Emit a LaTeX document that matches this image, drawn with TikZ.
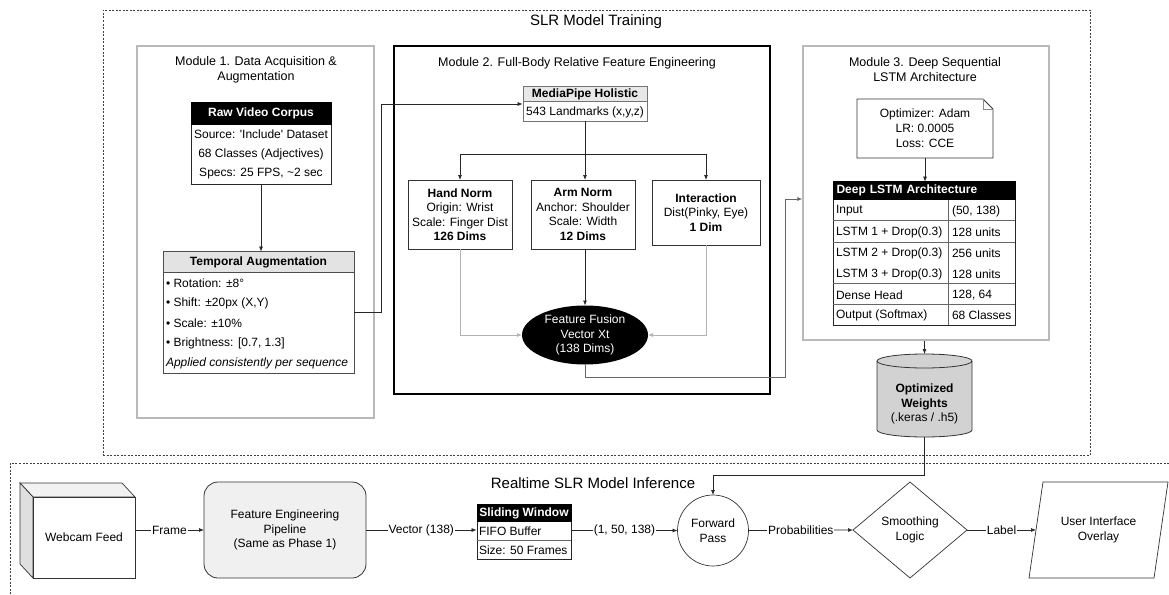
\documentclass[tikz,border=0pt]{standalone}
\usepackage{fontspec}
\setmainfont{Liberation Sans}
\usetikzlibrary{arrows.meta,shapes.geometric,calc}

\tikzset{
  base/.style={font=\fontsize{12}{14.5}\selectfont, inner sep=0pt, outer sep=0pt},
  txt/.style={base, align=center},
  ltxt/.style={base, anchor=west},
  sect/.style={base, font=\fontsize{15}{18}\selectfont},
  modtitle/.style={base, align=center, font=\fontsize{12.5}{15}\selectfont},
  frame/.style={draw=black!75, line width=0.6pt, dash pattern=on 2pt off 1.5pt},
  modbox/.style={draw=gray!55, line width=1.1pt},
  tbl/.style={draw=black!85, line width=0.8pt, fill=white, inner sep=0pt},
  hdr/.style={base, draw=black, fill=black, text=white, font=\fontsize{12}{14.5}\selectfont\bfseries},
  hdrgray/.style={base, draw=black!70, fill=gray!22, font=\fontsize{12}{14.5}\selectfont\bfseries},
  box/.style={base, draw=black!80, line width=0.8pt, fill=white, align=center},
  sep/.style={draw=black!60, line width=0.6pt},
  arr/.style={draw=black!85, line width=0.7pt, -{Latex[length=5pt,width=4pt]}},
  arrg/.style={arr, draw=gray!60},
  arrd/.style={arr, draw=black!60, line width=1pt},
  lbl/.style={base, fill=white, inner sep=1pt}
}

\begin{document}
\begin{tikzpicture}[x=1pt, y={(0pt,-1pt)}]
\useasboundingbox (0,0) rectangle (1169,594);

% ---------------- training phase ----------------
\node[frame, minimum width=987, minimum height=445] (train) at (596.5,232.5) {};
\node[sect] (traintitle) at (596,22) {SLR Model Training};

% Module 1
\node[modbox, minimum width=237, minimum height=372] (m1) at (255.5,232) {};
\node[modtitle] (m1t) at (256,69.5) {Module 1. Data Acquisition \&\\Augmentation};

\node[tbl, minimum width=140, minimum height=81] (corpus) at (261,143.5) {};
\node[hdr, minimum width=140, minimum height=22, anchor=north] (corpush) at (corpus.north) {Raw Video Corpus};
\node[txt] (c1) at (261,134) {Source: \textquotesingle Include\textquotesingle\ Dataset};
\node[txt] (c2) at (261,154) {68 Classes (Adjectives)};
\node[txt] (c3) at (261,174) {Specs: 25 FPS, \textasciitilde 2 sec};

\node[tbl, draw=black!70, minimum width=191, minimum height=121] (aug) at (258.5,312.5) {};
\node[hdrgray, minimum width=191, minimum height=21, anchor=north] (augh) at (aug.north) {Temporal Augmentation};
\node[ltxt] (a1) at (166,283) {• Rotation: ±8°};
\node[ltxt] (a2) at (166,303) {• Shift: ±20px (X,Y)};
\node[ltxt] (a3) at (166,323) {• Scale: ±10\%};
\node[ltxt] (a4) at (166,343) {• Brightness: [0.7, 1.3]};
\node[ltxt] (a5) at (166,363) {\itshape Applied consistently per sequence};

\draw[arr] (corpus.south) -- (corpus.south |- aug.north);

% Module 2
\node[draw=black, line width=1.6pt, minimum width=376, minimum height=348] (m2) at (582,220) {};
\node[modtitle] (m2t) at (577,63) {Module 2. Full-Body Relative Feature Engineering};

\node[tbl, draw=black!55, minimum width=124, minimum height=34] (mp) at (585,104) {};
\node[hdrgray, draw=black!55, fill=gray!18, minimum width=124, minimum height=15, anchor=north] (mph) at (mp.north) {MediaPipe Holistic};
\node[txt] (mpb) at (585,112) {543 Landmarks (x,y,z)};

\node[box, minimum width=104, minimum height=69] (hand) at (460,214.5)
  {\textbf{Hand Norm}\\Origin: Wrist\\Scale: Finger Dist\\\textbf{126 Dims}};
\node[box, minimum width=104, minimum height=69] (arm) at (583,214.5)
  {\textbf{Arm Norm}\\Anchor: Shoulder\\Scale: Width\\\textbf{12 Dims}};
\node[box, minimum width=108, minimum height=65] (inter) at (706,212.5)
  {\textbf{Interaction}\\Dist(Pinky, Eye)\\\textbf{1 Dim}};

\node[ellipse, base, fill=black, text=white, align=center, minimum width=126, minimum height=59] (fus) at (585,335)
  {Feature Fusion\\Vector Xt\\(138 Dims)};

\coordinate (split) at ($(mp.south)+(0,33)$);
\draw[draw=black!85, line width=0.7pt] (mp.south) -- (split);
\draw[arr] (split) -| (hand.north);
\draw[arr] (split) -| (inter.north);
\draw[arr] (split) -- (split |- arm.north);

\draw[arrg] (hand.south) |- (fus.west);
\draw[arr] (arm.south -| fus.north) -- (fus.north);
\draw[arrg] (inter.south) |- (fus.east);

% Module 1 -> Module 2
\draw[arr] (aug.east) -- ++(27,0) |- (mp.west);

% Module 3
\node[modbox, minimum width=246, minimum height=294] (m3) at (926,193) {};
\node[modtitle] (m3t) at (925,69.5) {Module 3. Deep Sequential\\LSTM Architecture};

\node[base, align=center, font=\fontsize{12}{15}\selectfont, minimum width=136, minimum height=59] (note) at (925,128.5)
  {Optimizer: Adam\\LR: 0.0005\\Loss: CCE};
\draw[draw=black!80, line width=0.8pt] (note.north west) -- ($(note.north east)+(-10,0)$)
  -- ($(note.north east)+(0,10)$) -- (note.south east) -- (note.south west) -- cycle;
\draw[draw=black!45, line width=0.5pt] ($(note.north east)+(-10,0)$) -- ($(note.north east)+(-10,10)$) -- ($(note.north east)+(0,10)$);

\node[tbl, minimum width=182, minimum height=143] (lstm) at (924,253.5) {};
\node[hdr, minimum width=182, minimum height=18, text width=175, align=left, anchor=north] (lstmh) at (lstm.north) {Deep LSTM Architecture};
\draw[sep] ($(lstm.north west)+(0,39)$) -- ($(lstm.north east)+(0,39)$);
\draw[sep] ($(lstm.north west)+(0,61)$) -- ($(lstm.north east)+(0,61)$);
\draw[sep] ($(lstm.north west)+(0,102)$) -- ($(lstm.north east)+(0,102)$);
\draw[sep] ($(lstm.north west)+(0,123)$) -- ($(lstm.north east)+(0,123)$);
\draw[sep] ($(lstm.north west)+(116,18)$) -- ($(lstm.south west)+(116,0)$);
\node[ltxt] (l1a) at (836,211) {Input};
\node[ltxt] (l1b) at (952,211) {(50, 138)};
\node[ltxt] (l2a) at (836,232) {LSTM 1 + Drop(0.3)};
\node[ltxt] (l2b) at (952,232) {128 units};
\node[ltxt] (l3a) at (836,253) {LSTM 2 + Drop(0.3)};
\node[ltxt] (l3b) at (952,253) {256 units};
\node[ltxt] (l4a) at (836,274) {LSTM 3 + Drop(0.3)};
\node[ltxt] (l4b) at (952,274) {128 units};
\node[ltxt] (l5a) at (836,295) {Dense Head};
\node[ltxt] (l5b) at (952,295) {128, 64};
\node[ltxt] (l6a) at (836,315) {Output (Softmax)};
\node[ltxt] (l6b) at (952,315) {68 Classes};

\draw[arr] (note.south) -- (note.south |- lstm.north);

% Module 2 -> Module 3
\draw[arrd] (fus.south) -- ++(0,13) -| ($(m3.west)+(-17,6)$) -- ($(m3.west)+(0,6)$);

% trained weights
\node[base, minimum width=95, minimum height=83] (db) at (924.5,395.5) {};
\draw[draw=black!80, line width=0.8pt, fill=gray!35]
  ($(db.north west)+(0,7)$) -- ($(db.south west)+(0,-7)$)
  arc[start angle=180, end angle=360, x radius=47.5pt, y radius=7pt]
  -- ($(db.north east)+(0,7)$)
  arc[start angle=0, end angle=180, x radius=47.5pt, y radius=7pt];
\draw[draw=black!80, line width=0.8pt] ($(db.north west)+(0,7)$)
  arc[start angle=180, end angle=360, x radius=47.5pt, y radius=7pt];
\node[txt] (dbtxt) at (924.5,404) {\textbf{Optimized}\\\textbf{Weights}\\(.keras / .h5)};

\draw[arr] (m3.south -| db.north) -- (db.north);

% ---------------- inference phase ----------------
\draw[frame] (1169,463) -- (10,463) -- (10,594);
\node[sect] (inftitle) at (593,483) {Realtime SLR Model Inference};

% webcam
\node[base, minimum width=102, minimum height=81] (cam) at (84,537.5) {};
\draw[draw=black!80, line width=0.7pt, fill=gray!10] (cam.north west) -- ++(-13,-14)
  -- ($(cam.north east)+(-13,-14)$) -- (cam.north east) -- cycle;
\draw[draw=black!80, line width=0.7pt, fill=gray!25] (cam.north west) -- ++(-13,-14)
  -- ($(cam.south west)+(-13,-14)$) -- (cam.south west) -- cycle;
\node[box, minimum width=102, minimum height=81] (camf) at (cam) {Webcam Feed};

\node[box, fill=gray!12, rounded corners=14pt, minimum width=162, minimum height=96] (fe) at (285,530)
  {Feature Engineering\\Pipeline\\(Same as Phase 1)};

\node[tbl, minimum width=94, minimum height=54] (sw) at (524,532) {};
\node[hdr, minimum width=94, minimum height=17, anchor=north] (swh) at (sw.north) {Sliding Window};
\draw[sep] ($(sw.north west)+(0,36)$) -- ($(sw.north east)+(0,36)$);
\node[ltxt] (sw1) at (479,531) {FIFO Buffer};
\node[ltxt] (sw2) at (479,550) {Size: 50 Frames};

\node[circle, base, draw=black!80, line width=0.7pt, align=center, minimum size=71] (fp) at (713,530.5) {Forward\\Pass};

\node[diamond, base, draw=black!80, line width=0.7pt, align=center, aspect=1.2, minimum width=114, minimum height=96] (dm) at (910,530)
  {Smoothing\\Logic};

\node[base, align=center, minimum width=125, minimum height=96] (ui) at (1098.5,530) {User Interface\\Overlay};
\draw[draw=black!80, line width=0.7pt] ($(ui.north west)+(7,0)$) -- ($(ui.north east)+(7,0)$)
  -- ($(ui.south east)+(-7,0)$) -- ($(ui.south west)+(-7,0)$) -- cycle;

\draw[arr] (cam.east |- fe.west) -- node[lbl] {Frame} (fe.west);
\draw[arr] (fe.east) -- node[lbl] {Vector (138)} (fe.east -| sw.west);
\draw[arr] (sw.east |- fp.west) -- node[lbl] {(1, 50, 138)} (fp.west);
\draw[arr] (fp.east) -- node[lbl] {Probabilities} (dm.west);
\draw[arr] (dm.east) -- node[lbl] {Label} (ui.west);

\draw[arr] (db.south) -- ++(0,38) -| (fp.north);
\end{tikzpicture}
\end{document}
